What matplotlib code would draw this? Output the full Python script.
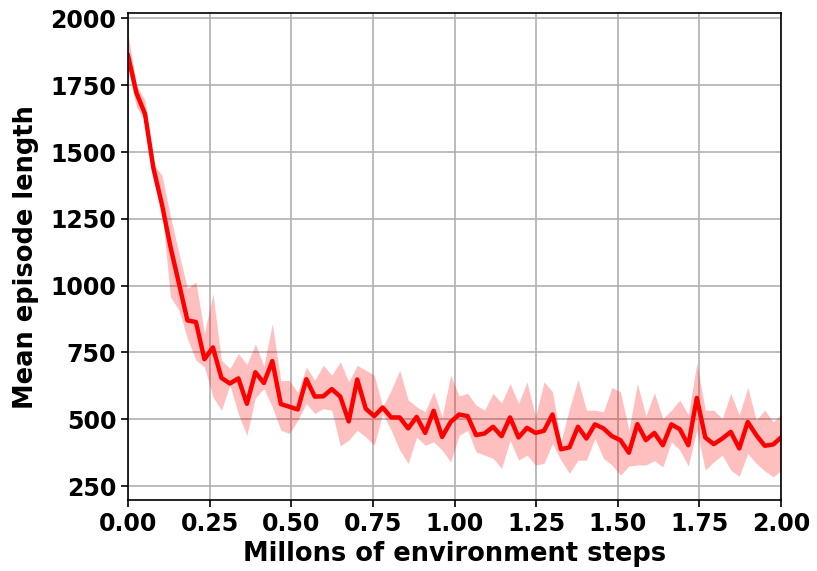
import numpy as np
import matplotlib
matplotlib.use("Agg")
import matplotlib.pyplot as plt

# Mean episode length, one value per logging step
mean_len = [1861, 1720, 1643, 1438, 1303, 1145, 1008, 870, 864, 725,
            769, 655, 634, 653, 558, 676, 636, 718, 557, 547,
            537, 650, 585, 586, 613, 585, 492, 649, 540, 512,
            544, 507, 507, 466, 509, 449, 532, 434, 490, 518,
            512, 441, 447, 472, 437, 507, 432, 468, 449, 457,
            518, 388, 395, 472, 428, 481, 466, 437, 422, 375,
            482, 422, 449, 403, 481, 463, 403, 580, 432, 407,
            428, 453, 391, 490, 441, 401, 406, 434]

upper_len = [1940, 1750, 1693, 1456, 1413, 1260, 1120, 990, 1014, 821,
             970, 721, 690, 746, 705, 782, 700, 858, 645, 645,
             600, 695, 646, 702, 665, 715, 640, 702, 684, 665,
             547, 609, 684, 572, 547, 528, 603, 509, 665, 587,
             597, 553, 534, 597, 561, 634, 559, 640, 509, 640,
             603, 416, 540, 649, 534, 534, 528, 619, 603, 459,
             634, 512, 599, 503, 534, 572, 516, 709, 534, 534,
             503, 597, 516, 619, 497, 534, 490, 522]

lower_len = [1810, 1668, 1618, 1420, 1282, 958, 908, 802, 721, 696,
             584, 534, 628, 520, 440, 580, 615, 546, 459, 447,
             497, 559, 522, 540, 534, 400, 422, 459, 434, 403,
             522, 459, 385, 335, 434, 403, 416, 385, 341, 440,
             459, 378, 366, 354, 316, 422, 347, 366, 329, 335,
             410, 347, 298, 347, 347, 428, 354, 329, 291, 325,
             329, 329, 345, 322, 416, 385, 325, 459, 310, 341,
             366, 310, 287, 372, 335, 307, 285, 310]

step_size = 0.026  # millions of environment steps between log points
x_ticks = [0.00, 0.25, 0.50, 0.75, 1.00, 1.25, 1.50, 1.75, 2.00]
y_ticks = [250, 500, 750, 1000, 1250, 1500, 1750, 2000]

x = np.arange(len(mean_len)) * step_size

fig = plt.figure(figsize=(8.17, 5.71), dpi=100)
ax = fig.add_axes([0.1567, 0.1243, 0.7993, 0.8524])

ax.fill_between(x, lower_len, upper_len, color="red", alpha=0.25, linewidth=0)
ax.plot(x, mean_len, color="red", linewidth=3.2)

ax.set_xlim(0, 2.0)
ax.set_ylim(198, 2019)
ax.set_xticks(x_ticks)
ax.set_xticklabels([f"{t:.2f}" for t in x_ticks])
ax.set_yticks(y_ticks)
ax.grid(True, color="#b0b0b0", linewidth=1.2)
ax.set_axisbelow(True)

for lab in ax.get_xticklabels() + ax.get_yticklabels():
    lab.set_fontweight("bold")
    lab.set_fontsize(17)
ax.tick_params(length=5, width=1.2)
for s in ax.spines.values():
    s.set_linewidth(1.2)

ax.set_xlabel("Millons of environment steps", fontsize=18.5, fontweight="bold", labelpad=4)
ax.set_ylabel("Mean episode length", fontsize=18.5, fontweight="bold", labelpad=8)

fig.savefig("out.png", dpi=100)
